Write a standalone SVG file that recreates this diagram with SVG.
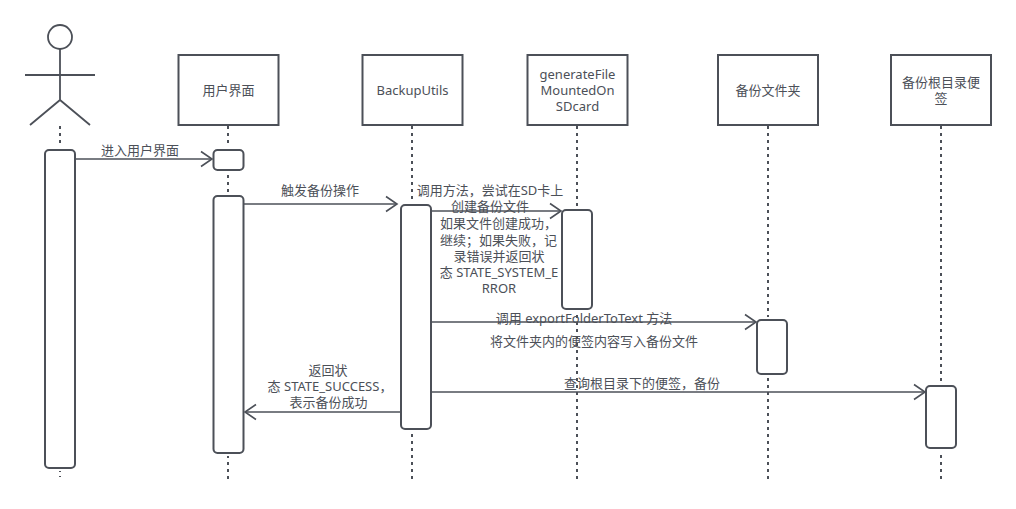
<svg xmlns="http://www.w3.org/2000/svg" width="1016" height="509" viewBox="0 0 1016 509">
<defs>
<marker id="open" markerUnits="userSpaceOnUse" markerWidth="14" markerHeight="18" refX="12" refY="9" orient="auto"><path d="M1 1.500 L12 9 L1 16.500" fill="none" stroke="#4c5058" stroke-width="1.6"/></marker>
</defs>
<style>
text{font-family:"Noto Sans","Noto Sans CJK SC",sans-serif;font-size:13px;fill:#4c5058;text-anchor:middle}
.box{fill:#fff;stroke:#4c5058;stroke-width:2}
.act{fill:#fff;stroke:#4c5058;stroke-width:2}
.halo{fill:none;stroke:#fff;stroke-width:6}
.life{fill:none;stroke:#4c5058;stroke-width:2;stroke-dasharray:3 4}
.msg{fill:none;stroke:#4c5058;stroke-width:1.6;marker-end:url(#open)}
.stick{fill:none;stroke:#4c5058;stroke-width:1.8}
</style>
<g id="lifelines">
<path class="life" d="M60 126V477"/>
<path class="life" d="M228 126V483"/>
<path class="life" d="M412 126V483"/>
<path class="life" d="M577 126V483"/>
<path class="life" d="M768 126V483"/>
<path class="life" d="M941 126V483"/>
</g>
<g id="actor">
<circle class="stick" cx="60" cy="37" r="12"/>
<path class="stick" d="M60 49V100M25 75H95M30 125L60 100L90 125"/>
</g>
<g id="node-ui">
<rect class="box" x="178.500" y="55" width="100" height="70"/>
<text x="228.500" y="95">用户界面</text>
</g>
<g id="node-backup">
<rect class="box" x="362.500" y="55" width="100" height="70"/>
<text x="412.500" y="95">BackupUtils</text>
</g>
<g id="node-generate">
<rect class="box" x="527.500" y="55" width="100" height="70"/>
<text x="577.500" y="79">generateFile</text>
<text x="577.500" y="95">MountedOn</text>
<text x="577.500" y="111">SDcard</text>
</g>
<g id="node-folder">
<rect class="box" x="718" y="55" width="100" height="70"/>
<text x="768" y="95">备份文件夹</text>
</g>
<g id="node-root">
<rect class="box" x="891" y="55" width="100" height="70"/>
<text x="941" y="87">备份根目录便</text>
<text x="941" y="103">签</text>
</g>
<g id="act-actor"><rect class="halo" x="45" y="150" width="30" height="318" rx="4"/><rect class="act" x="45" y="150" width="30" height="318" rx="4"/></g>
<g id="act-ui-1"><rect class="halo" x="213.500" y="150" width="30" height="20" rx="4"/><rect class="act" x="213.500" y="150" width="30" height="20" rx="4"/></g>
<g id="act-ui-2"><rect class="halo" x="213.500" y="196" width="30" height="257" rx="4"/><rect class="act" x="213.500" y="196" width="30" height="257" rx="4"/></g>
<g id="act-backup"><rect class="halo" x="401" y="205" width="30" height="224" rx="4"/><rect class="act" x="401" y="205" width="30" height="224" rx="4"/></g>
<g id="act-generate"><rect class="halo" x="562" y="210" width="30" height="99" rx="4"/><rect class="act" x="562" y="210" width="30" height="99" rx="4"/></g>
<g id="act-folder"><rect class="halo" x="757" y="320" width="30" height="54" rx="4"/><rect class="act" x="757" y="320" width="30" height="54" rx="4"/></g>
<g id="act-root"><rect class="halo" x="926" y="386" width="30" height="62" rx="4"/><rect class="act" x="926" y="386" width="30" height="62" rx="4"/></g>
<g id="connectors">
<path class="msg" d="M76 159H212"/>
<path class="msg" d="M244 204H397"/>
<path class="msg" d="M432 211H561"/>
<path class="msg" d="M432 322H756"/>
<path class="msg" d="M432 392H925"/>
<path class="msg" d="M400 412H245"/>
</g>
<g id="labels">
<text x="140" y="155">进入用户界面</text>
<text x="320" y="195">触发备份操作</text>
<text x="490" y="195">调用方法，尝试在SD卡上</text>
<text x="490" y="211">创建备份文件</text>
<text x="498.500" y="228">如果文件创建成功，</text>
<text x="498.500" y="245">继续；如果失败，记</text>
<text x="499" y="261">录错误并返回状</text>
<text x="499" y="277">态 STATE_SYSTEM_E</text>
<text x="499" y="293">RROR</text>
<text x="584" y="323">调用 exportFolderToText 方法</text>
<text x="594" y="346">将文件夹内的便签内容写入备份文件</text>
<text x="642" y="388">查询根目录下的便签，备份</text>
<text x="328" y="375">返回状</text>
<text x="330" y="391">态 STATE_SUCCESS，</text>
<text x="328.500" y="407">表示备份成功</text>
</g>
</svg>
